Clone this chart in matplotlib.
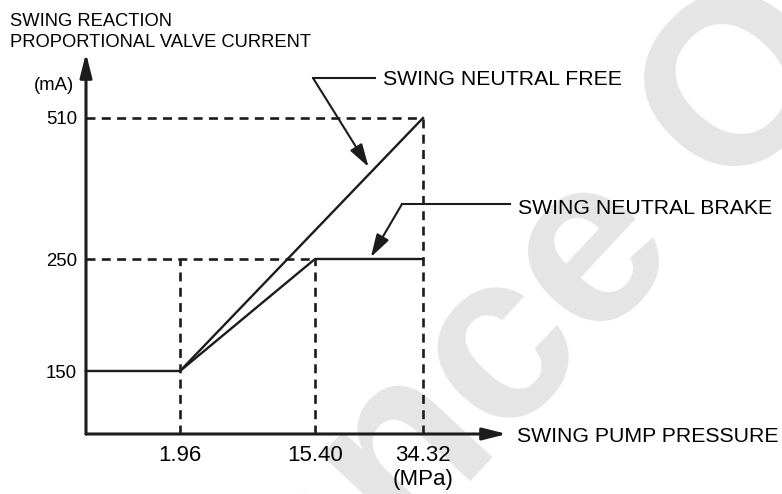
import numpy as np
import matplotlib
matplotlib.use("Agg")
import matplotlib.pyplot as plt
from matplotlib.patches import ArrowStyle
from matplotlib.lines import Line2D
from matplotlib.ticker import NullLocator

plt.rcParams["font.family"] = ["Liberation Sans", "DejaVu Sans"]

# --- Characteristic data ---
PRESSURE_TICKS = [1.96, 15.40, 34.32]           # MPa
PRESSURE_LABELS = ["1.96", "15.40", "34.32\n(MPa)"]
CURRENT_TICKS = [150, 250, 510]                 # mA
CURRENT_LABELS = ["150", "250", "510"]

FREE_P = [0, 1.96, 34.32]
FREE_I = [150, 150, 510]
BRAKE_P = [1.96, 15.40, 34.32]
BRAKE_I = [150, 250, 250]

# --- Layout (the diagram is schematic, not to scale) ---
W, H = 782, 494
X_KNOTS, X_SPOTS, X_LEN = [0, 1.96, 15.40, 34.32], [0, 94, 229, 337], 421
Y_KNOTS, Y_SPOTS, Y_LEN = [0, 150, 250, 510], [0, 63, 175, 316], 381
INK = "#1d1b1c"


def piecewise(knots, spots):
    """Forward/inverse pair for a piecewise-linear axis with linear ends."""
    k = np.asarray(knots, float)
    s = np.asarray(spots, float)

    def make(a, b):
        lo = (b[1] - b[0]) / (a[1] - a[0])
        hi = (b[-1] - b[-2]) / (a[-1] - a[-2])

        def f(v):
            v = np.asarray(v, float)
            out = np.interp(v, a, b)
            out = np.where(v > a[-1], b[-1] + (v - a[-1]) * hi, out)
            out = np.where(v < a[0], b[0] + (v - a[0]) * lo, out)
            return out
        return f

    return make(k, s), make(s, k)


def px(x, y):
    # pixel position (from top-left) -> figure fraction
    return x / W, 1 - y / H


x_fwd, x_inv = piecewise(X_KNOTS, X_SPOTS)
y_fwd, y_inv = piecewise(Y_KNOTS, Y_SPOTS)

fig = plt.figure(figsize=(W / 100, H / 100), dpi=100)

# faint watermark behind the diagram
fig.text(*px(494, 456), "Reference Only", fontsize=172, fontweight="bold",
         color="#e5e5e5", rotation=47, rotation_mode="anchor",
         ha="center", va="baseline", zorder=0)

ax = fig.add_axes([86 / W, (H - 434) / H, X_LEN / W, Y_LEN / H])
ax.set_zorder(1)
ax.patch.set_visible(False)
ax.set_xscale("function", functions=(x_fwd, x_inv))
ax.set_yscale("function", functions=(y_fwd, y_inv))
ax.set_xlim(0, float(x_inv(X_LEN)))
ax.set_ylim(0, float(y_inv(Y_LEN)))
for s in ax.spines.values():
    s.set_visible(False)

# guide lines
dash = dict(color=INK, lw=1.9, linestyle=(0, (3.4, 2.4)), clip_on=False)
ax.hlines([CURRENT_TICKS[2], CURRENT_TICKS[1]], 0,
          [PRESSURE_TICKS[2], PRESSURE_TICKS[1]], **dash)
ax.vlines(PRESSURE_TICKS, 0,
          [CURRENT_TICKS[1], CURRENT_TICKS[1], CURRENT_TICKS[2]], **dash)

# characteristic curves
ax.plot(FREE_P, FREE_I, color=INK, lw=1.7, clip_on=False,
        solid_joinstyle="miter", zorder=3)
ax.plot(BRAKE_P, BRAKE_I, color=INK, lw=1.7, clip_on=False,
        solid_joinstyle="miter", zorder=3)

# axes with arrow heads
axis_style = ArrowStyle("-|>", head_length=1.44, head_width=0.36)
for tip in [(1, 0), (0, 1)]:
    ax.annotate("", xy=tip, xytext=(0, 0), xycoords="axes fraction",
                arrowprops=dict(arrowstyle=axis_style, mutation_scale=10,
                                lw=2.2, color=INK, shrinkA=0, shrinkB=0))

ax.set_xticks(PRESSURE_TICKS, PRESSURE_LABELS)
ax.set_yticks(CURRENT_TICKS, CURRENT_LABELS)
ax.xaxis.set_minor_locator(NullLocator())
ax.yaxis.set_minor_locator(NullLocator())
ax.tick_params(axis="x", length=0, pad=8, labelsize=16)
ax.tick_params(axis="y", length=0, pad=6.5, labelsize=13.4)

# axis titles
fig.text(*px(10, 25.6), "SWING REACTION", fontsize=13.2, va="baseline")
fig.text(*px(10, 46.6), "PROPORTIONAL VALVE CURRENT", fontsize=13.2,
         va="baseline")
fig.text(*px(74, 85), "(mA)", fontsize=13.3, ha="right", va="center")
fig.text(*px(517, 442), "SWING PUMP PRESSURE", fontsize=15.3, va="baseline")

# callouts
ptr_style = ArrowStyle("-|>", head_length=1.4, head_width=0.42)
callouts = [
    ("SWING NEUTRAL FREE", (313, 78), (375, 78), (383, 85), (25.3, 411), 4),
    ("SWING NEUTRAL BRAKE", (402, 204), (510, 204), (518, 214), (25.0, 250), 1.5),
]
for label, elbow, end, txt, target, gap in callouts:
    fig.add_artist(Line2D([px(*elbow)[0], px(*end)[0]],
                          [px(*elbow)[1], px(*end)[1]],
                          color=INK, lw=1.5, transform=fig.transFigure))
    ax.annotate("", xy=target, xycoords="data",
                xytext=px(*elbow), textcoords="figure fraction",
                arrowprops=dict(arrowstyle=ptr_style, mutation_scale=10,
                                lw=1.5, color=INK, shrinkA=0, shrinkB=gap))
    fig.text(*px(*txt), label, fontsize=15.3, va="baseline")

fig.savefig("out.png", dpi=100)
